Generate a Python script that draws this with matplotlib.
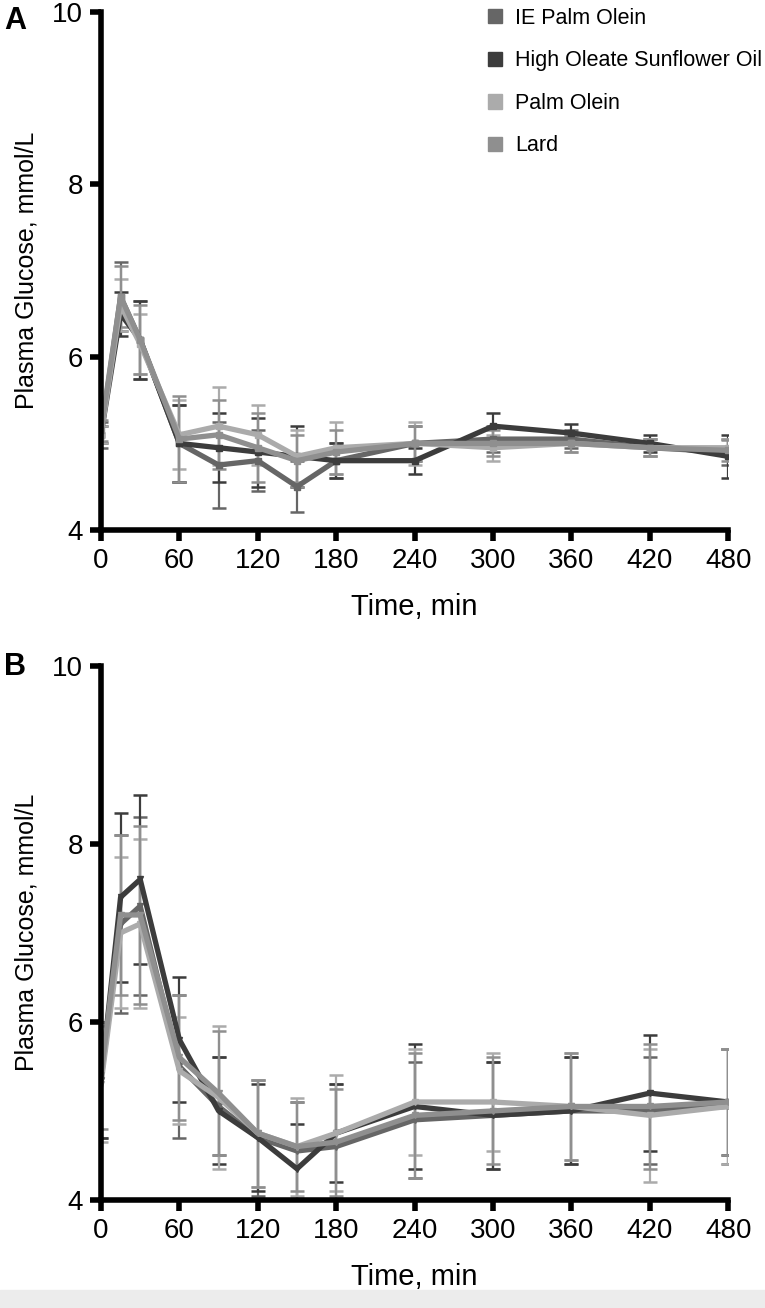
import numpy as np
import matplotlib.pyplot as plt
from matplotlib.patches import Rectangle

plt.rcParams['font.family'] = ['Liberation Sans', 'DejaVu Sans']

time = [0, 15, 30, 60, 90, 120, 150, 180, 240, 300, 360, 420, 480]
names = ["IE Palm Olein", "High Oleate Sunflower Oil", "Palm Olein", "Lard"]
colors = ["#666666", "#3c3c3c", "#ababab", "#8f8f8f"]

# panel A means / SEM
a_ie = [5.1, 6.7, 6.2, 5.0, 4.75, 4.8, 4.5, 4.8, 5.0, 5.05, 5.05, 4.95, 4.9]
a_hoso = [5.1, 6.5, 6.2, 5.0, 4.95, 4.9, 4.85, 4.8, 4.8, 5.2, 5.12, 5.0, 4.85]
a_po = [5.1, 6.6, 6.15, 5.1, 5.2, 5.1, 4.85, 4.95, 5.0, 4.95, 5.0, 4.95, 4.95]
a_lard = [5.15, 6.7, 6.2, 5.05, 5.1, 4.95, 4.8, 4.9, 5.0, 5.0, 5.0, 4.95, 4.92]
a_ie_e = [0.15, 0.4, 0.45, 0.45, 0.5, 0.35, 0.3, 0.2, 0.2, 0.15, 0.1, 0.1, 0.15]
a_hoso_e = [0.1, 0.25, 0.45, 0.45, 0.4, 0.4, 0.35, 0.2, 0.15, 0.15, 0.1, 0.1, 0.25]
a_po_e = [0.1, 0.3, 0.35, 0.4, 0.45, 0.35, 0.3, 0.3, 0.25, 0.15, 0.1, 0.1, 0.1]
a_lard_e = [0.12, 0.35, 0.4, 0.5, 0.4, 0.4, 0.3, 0.25, 0.2, 0.15, 0.1, 0.1, 0.12]

# panel B means / SEM
b_ie = [5.35, 7.1, 7.3, 5.5, 5.05, 4.7, 4.55, 4.6, 4.9, 4.95, 5.0, 5.0, 5.05]
b_hoso = [5.35, 7.4, 7.6, 5.8, 5.0, 4.7, 4.35, 4.75, 5.05, 4.95, 5.0, 5.2, 5.1]
b_po = [5.3, 7.0, 7.1, 5.45, 5.15, 4.75, 4.6, 4.75, 5.1, 5.1, 5.05, 4.95, 5.05]
b_lard = [5.4, 7.2, 7.2, 5.6, 5.2, 4.75, 4.6, 4.65, 4.95, 5.0, 5.05, 5.05, 5.1]
b_ie_e = [0.65, 1.0, 1.0, 0.8, 0.55, 0.65, 0.55, 0.7, 0.65, 0.6, 0.6, 0.6, 0.65]
b_hoso_e = [0.65, 0.95, 0.95, 0.7, 0.6, 0.6, 0.5, 0.55, 0.7, 0.6, 0.6, 0.65, 0.6]
b_po_e = [0.65, 0.85, 0.95, 0.6, 0.8, 0.6, 0.55, 0.65, 0.6, 0.55, 0.6, 0.75, 0.65]
b_lard_e = [0.6, 0.9, 1.0, 0.7, 0.7, 0.6, 0.5, 0.6, 0.7, 0.6, 0.6, 0.7, 0.6]

fig = plt.figure(figsize=(7.65, 13.08), dpi=100)
axA = fig.add_axes([0.132, 0.595, 0.820, 0.396])
axB = fig.add_axes([0.132, 0.0826, 0.820, 0.4085])
fig.patches.append(Rectangle((0, 0), 1, 0.014, transform=fig.transFigure,
                             color="#ececec", zorder=0))


def draw(ax, means, errs, mk):
    for m, e, c, n in zip(means, errs, colors, names):
        ax.errorbar(time, m, yerr=e, color=c, lw=3.8, marker=mk, ms=5,
                    elinewidth=1.6, capsize=5, capthick=1.8, label=n)
    ax.set_xlim(0, 480)
    ax.set_ylim(4, 10)
    ax.set_xticks(range(0, 481, 60))
    ax.set_yticks([4, 6, 8, 10])
    for s in ["top", "right"]:
        ax.spines[s].set_visible(False)
    for s in ["left", "bottom"]:
        ax.spines[s].set_linewidth(4)
    ax.tick_params(width=4, length=8, labelsize=20, pad=5)
    ax.set_xlabel("Time, min", fontsize=21, labelpad=14)
    ax.set_ylabel("Plasma Glucose, mmol/L", fontsize=18, labelpad=10)


draw(axA, [a_ie, a_hoso, a_po, a_lard], [a_ie_e, a_hoso_e, a_po_e, a_lard_e], "s")
draw(axB, [b_ie, b_hoso, b_po, b_lard], [b_ie_e, b_hoso_e, b_po_e, b_lard_e], "v")

handles = [Rectangle((0, 0), 1, 1, color=c) for c in colors]
axA.legend(handles, names, loc="upper right", bbox_to_anchor=(1.085, 1.045),
           frameon=False, fontsize=15.5, handlelength=0.65, handleheight=0.65,
           labelspacing=1.0, handletextpad=0.6)

fig.text(0.005, 0.978, "A", fontsize=22, fontweight="bold")
fig.text(0.005, 0.484, "B", fontsize=22, fontweight="bold")

fig.savefig("out.png", dpi=100)
